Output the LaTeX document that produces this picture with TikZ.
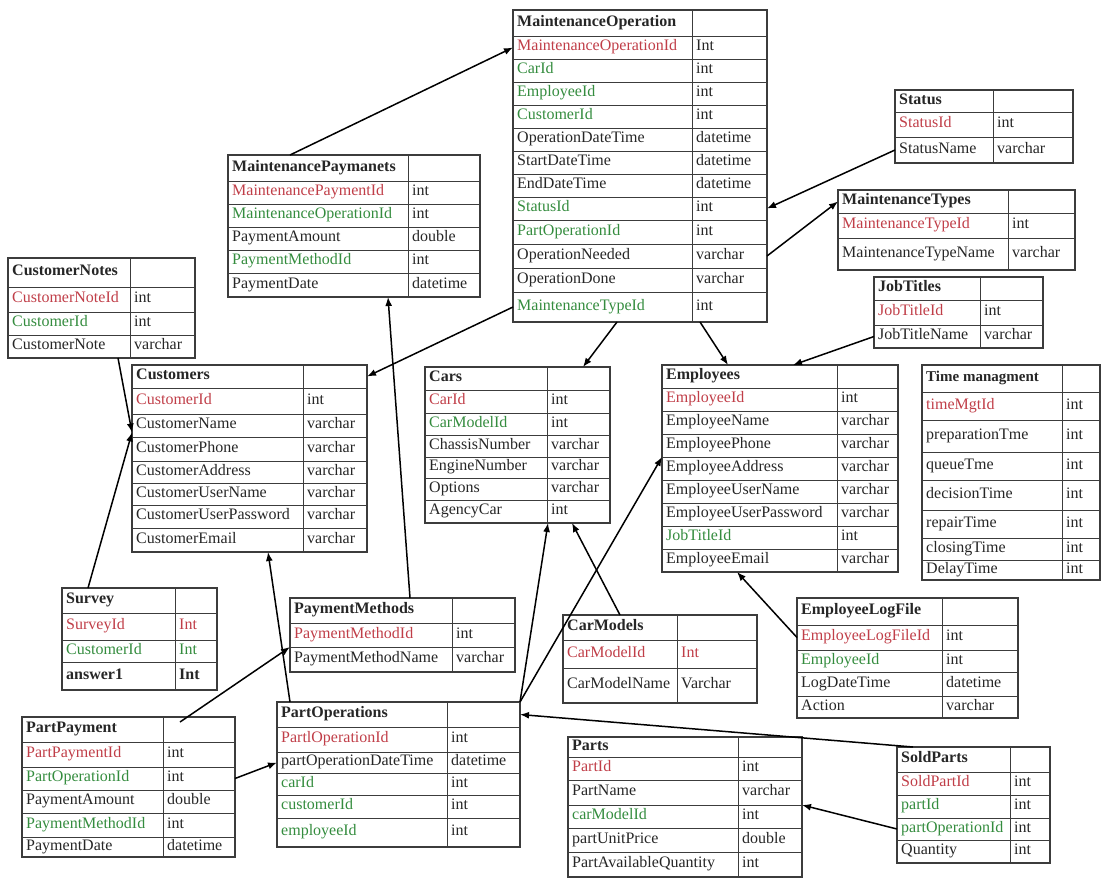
\documentclass[tikz,border=0pt]{standalone}
\usepackage{fontspec}
\setmainfont{Liberation Serif}
\usetikzlibrary{arrows.meta,calc}
\definecolor{keyred}{RGB}{192,62,72}
\definecolor{fkgreen}{RGB}{52,140,62}
\definecolor{tblgray}{RGB}{60,60,60}
\newcommand\PK{\color{keyred}}
\newcommand\FK{\color{fkgreen}}
\newcommand\NO{\relax}
\newcommand\HD{\bfseries}
\tikzset{
  rowbox/.style={draw=tblgray, line width=1pt, inner sep=0pt, outer sep=0pt},
  tblbox/.style={draw=tblgray, line width=1.4pt, inner sep=0pt, outer sep=0pt},
  txt/.style={inner sep=0pt, anchor=west, text height=0.68em, text depth=0.2em,
              font=\fontsize{16}{18}\selectfont, text=black!85},
  conn/.style={draw=black, line width=1.5pt, -{Latex[length=9pt,width=7pt]}}
}
% #1 name, #2 x0, #3 xdiv, #4 x1, #5 ytop, #6 ybottom, #7 rows
\newcommand\dbtable[7]{%
  \pgfmathsetmacro\tblw{#4-#2}%
  \pgfmathsetmacro\tblh{#6-#5}%
  \foreach \ya/\yb/\fs/\fn/\ts/\ft [count=\i from 0] in {#7} {
    \pgfmathsetmacro\rowh{\yb-\ya}
    \node[rowbox, minimum width=\tblw pt, minimum height=\rowh pt, anchor=north west] (#1-\i) at (#2,\ya) {};
    \node[txt] (#1-\i-n) at (#2+4,{(\ya+\yb)/2+1}) {\fs\fn};
    \node[txt] (#1-\i-t) at (#3+4,{(\ya+\yb)/2+1}) {\ts\ft};
  }
  \draw[draw=tblgray, line width=1pt] (#3,#5) -- (#3,#6);
  \node[tblbox, minimum width=\tblw pt, minimum height=\tblh pt, anchor=north west] (#1) at (#2,#5) {};
}
\begin{document}
\begin{tikzpicture}[x=1pt,y=-1pt]
\useasboundingbox (0,0) rectangle (1102,878);

\dbtable{mo}{513}{692}{767}{10}{322}{
 10/36/\HD/MaintenanceOperation/\NO/{},
 36/59/\PK/MaintenanceOperationId/\NO/Int,
 59/82/\FK/CarId/\NO/int,
 82/105/\FK/EmployeeId/\NO/int,
 105/128/\FK/CustomerId/\NO/int,
 128/151/\NO/OperationDateTime/\NO/datetime,
 151/174/\NO/StartDateTime/\NO/datetime,
 174/197/\NO/EndDateTime/\NO/datetime,
 197/220/\FK/StatusId/\NO/int,
 220/244/\FK/PartOperationId/\NO/int,
 244/268/\NO/OperationNeeded/\NO/varchar,
 268/292/\NO/OperationDone/\NO/varchar,
 292/322/\FK/MaintenanceTypeId/\NO/int}

\dbtable{mp}{228}{408}{480}{155}{297}{
 155/181/\HD/MaintenancePaymanets/\NO/{},
 181/204/\PK/MaintenancePaymentId/\NO/int,
 204/227/\FK/MaintenanceOperationId/\NO/int,
 227/250/\NO/PaymentAmount/\NO/double,
 250/273/\FK/PaymentMethodId/\NO/int,
 273/297/\NO/PaymentDate/\NO/datetime}

\dbtable{cn}{8}{130}{195}{258}{358}{
 258/287/\HD/CustomerNotes/\NO/{},
 287/312/\PK/CustomerNoteId/\NO/int,
 312/335/\FK/CustomerId/\NO/int,
 335/358/\NO/CustomerNote/\NO/varchar}

\dbtable{cu}{132}{303}{367}{365}{552}{
 365/388/\HD/Customers/\NO/{},
 388/414/\PK/CustomerId/\NO/int,
 414/437/\NO/CustomerName/\NO/varchar,
 437/461/\NO/CustomerPhone/\NO/varchar,
 461/483/\NO/CustomerAddress/\NO/varchar,
 483/505/\NO/CustomerUserName/\NO/varchar,
 505/528/\NO/CustomerUserPassword/\NO/varchar,
 528/552/\NO/CustomerEmail/\NO/varchar}

\dbtable{ca}{425}{547}{610}{367}{523}{
 367/390/\HD/Cars/\NO/{},
 390/413/\PK/CarId/\NO/int,
 413/435/\FK/CarModelId/\NO/int,
 435/457/\NO/ChassisNumber/\NO/varchar,
 457/478/\NO/EngineNumber/\NO/varchar,
 478/500/\NO/Options/\NO/varchar,
 500/523/\NO/AgencyCar/\NO/int}

\dbtable{em}{662}{837}{898}{365}{572}{
 365/388/\HD/Employees/\NO/{},
 388/411/\PK/EmployeeId/\NO/int,
 411/434/\NO/EmployeeName/\NO/varchar,
 434/457/\NO/EmployeePhone/\NO/varchar,
 457/480/\NO/EmployeeAddress/\NO/varchar,
 480/503/\NO/EmployeeUserName/\NO/varchar,
 503/526/\NO/EmployeeUserPassword/\NO/varchar,
 526/549/\FK/JobTitleId/\NO/int,
 549/572/\NO/EmployeeEmail/\NO/varchar}

\dbtable{st}{895}{993}{1073}{90}{163}{
 90/112/\HD/Status/\NO/{},
 112/137/\PK/StatusId/\NO/int,
 137/163/\NO/StatusName/\NO/varchar}

\dbtable{mt}{838}{1008}{1075}{190}{270}{
 190/213/\HD/MaintenanceTypes/\NO/{},
 213/238/\PK/MaintenanceTypeId/\NO/int,
 238/270/\NO/MaintenanceTypeName/\NO/varchar}

\dbtable{jt}{874}{980}{1043}{277}{348}{
 277/300/\HD/JobTitles/\NO/{},
 300/325/\PK/JobTitleId/\NO/int,
 325/348/\NO/JobTitleName/\NO/varchar}

\dbtable{tm}{922}{1062}{1100}{365}{580}{
 365/392/\HD/{\fontsize{15}{17}\selectfont Time managment}/\NO/{},
 392/420/\PK/timeMgtId/\NO/int,
 420/452/\NO/preparationTme/\NO/int,
 452/480/\NO/queueTme/\NO/int,
 480/510/\NO/decisionTime/\NO/int,
 510/538/\NO/repairTime/\NO/int,
 538/560/\NO/closingTime/\NO/int,
 560/580/\NO/DelayTime/\NO/int}

\dbtable{sv}{62}{175}{217}{588}{690}{
 588/613/\HD/Survey/\NO/{},
 613/640/\PK/SurveyId/\PK/Int,
 640/662/\FK/CustomerId/\FK/Int,
 662/690/\HD/answer1/\HD/Int}

\dbtable{pp}{22}{163}{235}{717}{857}{
 717/742/\HD/PartPayment/\NO/{},
 742/767/\PK/PartPaymentId/\NO/int,
 767/790/\FK/PartOperationId/\NO/int,
 790/813/\NO/PaymentAmount/\NO/double,
 813/837/\FK/PaymentMethodId/\NO/int,
 837/857/\NO/PaymentDate/\NO/datetime}

\dbtable{pm}{290}{452}{515}{598}{672}{
 598/623/\HD/PaymentMethods/\NO/{},
 623/647/\PK/PaymentMethodId/\NO/int,
 647/672/\NO/PaymentMethodName/\NO/varchar}

\dbtable{po}{277}{447}{520}{702}{847}{
 702/727/\HD/PartOperations/\NO/{},
 727/752/\PK/PartlOperationId/\NO/int,
 752/773/\NO/partOperationDateTime/\NO/datetime,
 773/795/\FK/carId/\NO/int,
 795/818/\FK/customerId/\NO/int,
 818/847/\FK/employeeId/\NO/int}

\dbtable{cm}{563}{677}{757}{615}{703}{
 615/640/\HD/CarModels/\NO/{},
 640/668/\PK/CarModelId/\PK/Int,
 668/703/\NO/CarModelName/\NO/Varchar}

\dbtable{pa}{568}{738}{802}{737}{877}{
 737/757/\HD/Parts/\NO/{},
 757/780/\PK/PartId/\NO/int,
 780/805/\NO/PartName/\NO/varchar,
 805/828/\FK/carModelId/\NO/int,
 828/852/\NO/partUnitPrice/\NO/double,
 852/877/\NO/PartAvailableQuantity/\NO/int}

\dbtable{el}{797}{942}{1018}{598}{718}{
 598/625/\HD/EmployeeLogFile/\NO/{},
 625/650/\PK/EmployeeLogFileId/\NO/int,
 650/672/\FK/EmployeeId/\NO/int,
 672/696/\NO/LogDateTime/\NO/datetime,
 696/718/\NO/Action/\NO/varchar}

\dbtable{sp}{897}{1010}{1050}{747}{863}{
 747/772/\HD/SoldParts/\NO/{},
 772/795/\PK/SoldPartId/\NO/int,
 795/818/\FK/partId/\NO/int,
 818/840/\FK/partOperationId/\NO/int,
 840/863/\NO/Quantity/\NO/int}

% connectors
\draw[conn] ([xshift=62pt]mp.north west) -- (mo-1.west);
\draw[conn] (st-2.west) -- (mo-8.east);
\draw[conn] (mo-10.east) -- (mt-0.west);
\draw[conn] (mo-12.west) -- (cu-0.east);
\draw[conn] ([xshift=-150pt]mo.south east) -- ([xshift=-27pt]ca.north east);
\draw[conn] ([xshift=-67pt]mo.south east) -- ([xshift=66pt]em.north west);
\draw[conn] (jt-2.west) -- ([xshift=131pt]em.north west);
\draw[conn] ([xshift=110pt]cn.south west) -- ([yshift=-7pt]cu-2.west);
\draw[conn] ([xshift=26pt]sv.north west) -- ([yshift=-7pt]cu-2.west);
\draw[conn] ([xshift=120pt]pm.north west) -- ([xshift=160pt]mp.south west);
\draw[conn] ([xshift=-55pt,yshift=-5pt]pp.north east) -- (pm-2.north west);
\draw[conn] (pp-2.east) -- (po-2.west);
\draw[conn] ([xshift=13pt]po.north west) -- ([xshift=136pt]cu.south west);
\draw[conn] (po.north east) -- ([xshift=123pt]ca.south west);
\draw[conn] (po.north east) -- (em-4.north west);
\draw[conn] ([xshift=57pt]cm.north west) -- ([xshift=147pt]ca.south west);
\draw[conn] (el-1.west) -- ([xshift=75pt]em.south west);
\draw[conn] ([xshift=16pt]sp.north west) -- (po-0.east);
\draw[conn] (sp-3.west) -- (pa-3.north east);
\end{tikzpicture}
\end{document}
